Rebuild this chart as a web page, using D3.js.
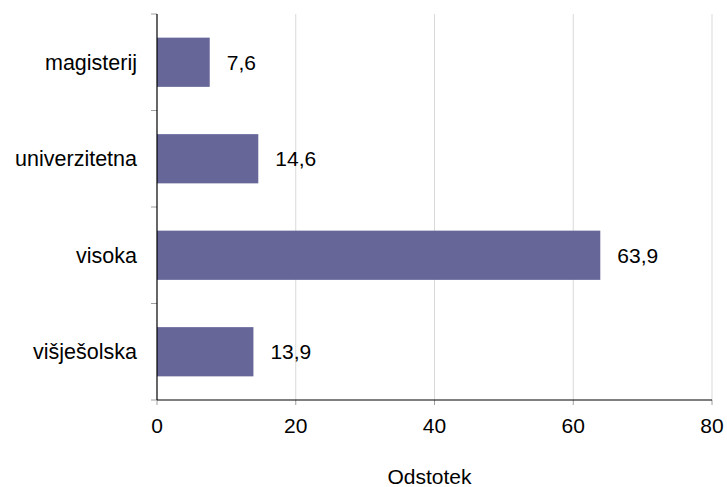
<!DOCTYPE html>
<html>
<head>
<meta charset="utf-8">
<script src="https://cdn.jsdelivr.net/npm/d3@7"></script>
<style>
  body { margin: 0; background: #fff; }
  text { font-family: "Liberation Sans", Arial, sans-serif; }
</style>
</head>
<body>
<div id="wrapper"></div>
<script>
  // DATA
  const categories = ["magisterij", "univerzitetna", "visoka", "višješolska"]
  const values = [7.6, 14.6, 63.9, 13.9]
  const xTicks = [0, 20, 40, 60, 80]
  const xTitle = "Odstotek"

  const dataset = categories.map((c, i) => ({ cat: c, val: values[i] }))

  // DIMENSIONS
  const dimensions = {
    width: 727,
    height: 487,
    margin: { top: 14, right: 15, bottom: 87, left: 157 }
  }
  dimensions.boundedWidth = dimensions.width - dimensions.margin.left - dimensions.margin.right
  dimensions.boundedHeight = dimensions.height - dimensions.margin.top - dimensions.margin.bottom

  const wrapper = d3.select("#wrapper").append("svg")
    .attr("width", dimensions.width)
    .attr("height", dimensions.height)

  const bounds = wrapper.append("g")
    .attr("transform", `translate(${dimensions.margin.left},${dimensions.margin.top})`)

  // SCALES
  const xScale = d3.scaleLinear()
    .domain([0, 80])
    .range([0, dimensions.boundedWidth])

  const yScale = d3.scaleBand()
    .domain(categories)
    .range([0, dimensions.boundedHeight])
    .paddingInner(0.49)
    .paddingOuter(0.245)

  const step = yScale.step()
  const bandStart = d => yScale(d) - yScale.paddingInner() * step / 2

  // GRID
  bounds.append("g").selectAll("line")
    .data(xTicks.slice(1))
    .join("line")
    .attr("x1", d => xScale(d)).attr("x2", d => xScale(d))
    .attr("y1", 0).attr("y2", dimensions.boundedHeight)
    .attr("stroke", "#d9d9d9")

  // BARS
  bounds.append("g").selectAll("rect")
    .data(dataset)
    .join("rect")
    .attr("x", 0)
    .attr("y", d => yScale(d.cat))
    .attr("width", d => xScale(d.val))
    .attr("height", yScale.bandwidth())
    .attr("fill", "#666699")

  // VALUE LABELS
  bounds.append("g").selectAll("text")
    .data(dataset)
    .join("text")
    .attr("x", d => xScale(d.val) + 17)
    .attr("y", d => yScale(d.cat) + yScale.bandwidth() / 2)
    .attr("dy", "0.35em")
    .style("font-size", "21px")
    .attr("fill", "#000")
    .text(d => d3.format(".1f")(d.val).replace(".", ","))

  // X AXIS
  const xAxis = bounds.append("g")
    .attr("transform", `translate(0,${dimensions.boundedHeight})`)
  xAxis.selectAll("line.tick")
    .data(xTicks)
    .join("line")
    .attr("class", "tick")
    .attr("x1", d => xScale(d)).attr("x2", d => xScale(d))
    .attr("y1", 0).attr("y2", 5)
    .attr("stroke", "#a0a0a0")
  xAxis.append("line")
    .attr("x1", 0).attr("x2", dimensions.boundedWidth)
    .attr("stroke", "#000").attr("stroke-width", 1.2)
  xAxis.selectAll("text")
    .data(xTicks)
    .join("text")
    .attr("x", d => xScale(d))
    .attr("y", 33)
    .attr("text-anchor", "middle")
    .style("font-size", "21px")
    .text(d => d)
  bounds.append("text")
    .attr("x", dimensions.boundedWidth / 2 - 5)
    .attr("y", dimensions.boundedHeight + 84)
    .attr("text-anchor", "middle")
    .style("font-size", "21px")
    .text(xTitle)

  // Y AXIS
  const yAxis = bounds.append("g")
  yAxis.selectAll("line.tick")
    .data(categories.concat(["end"]))
    .join("line")
    .attr("class", "tick")
    .attr("x1", -6).attr("x2", 0)
    .attr("y1", (d, i) => i < categories.length ? bandStart(d) : dimensions.boundedHeight)
    .attr("y2", (d, i) => i < categories.length ? bandStart(d) : dimensions.boundedHeight)
    .attr("stroke", "#a0a0a0")
  yAxis.append("line")
    .attr("y1", 0).attr("y2", dimensions.boundedHeight)
    .attr("stroke", "#000").attr("stroke-width", 1.2)
  yAxis.selectAll("text")
    .data(categories)
    .join("text")
    .attr("x", -20)
    .attr("y", d => yScale(d) + yScale.bandwidth() / 2)
    .attr("dy", "0.35em")
    .attr("text-anchor", "end")
    .style("font-size", "21.5px")
    .text(d => d)
</script>
</body>
</html>
